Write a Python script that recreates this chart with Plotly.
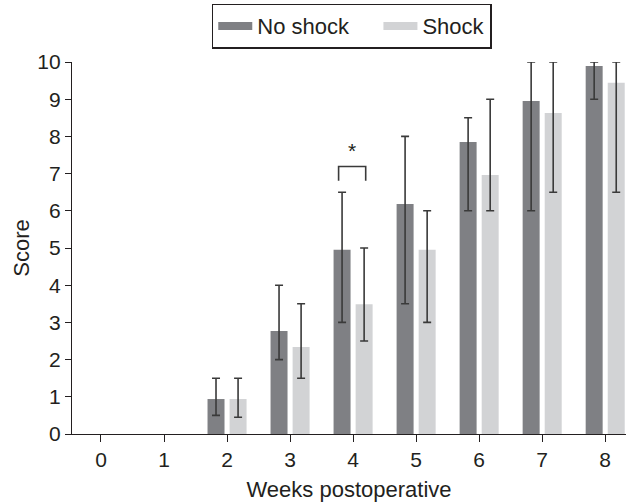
import plotly.graph_objects as go

weeks = [0, 1, 2, 3, 4, 5, 6, 7, 8]
tick_labels = ["0", "1", "2", "3", "4", "5", "6", "7", "8"]

no_shock = [None, None, 0.94, 2.77, 4.95, 6.18, 7.85, 8.95, 9.89]
no_shock_hi = [None, None, 1.5, 4.0, 6.5, 8.0, 8.5, 10.0, 10.0]
no_shock_lo = [None, None, 0.5, 2.0, 3.0, 3.5, 6.0, 6.0, 9.0]

shock = [None, None, 0.94, 2.34, 3.49, 4.95, 6.96, 8.63, 9.44]
shock_hi = [None, None, 1.5, 3.5, 5.0, 6.0, 9.0, 10.0, 10.0]
shock_lo = [None, None, 0.45, 1.5, 2.5, 3.0, 6.0, 6.5, 6.5]

DARK = "#7f8084"
LIGHT = "#d2d3d5"
INK = "#231f20"
FONT = "Liberation Sans, Arial, sans-serif"


def err(vals, hi, lo):
    plus = [h - v if h is not None else float("nan") for v, h in zip(vals, hi)]
    minus = [v - l if l is not None else float("nan") for v, l in zip(vals, lo)]
    return dict(type="data", symmetric=False, array=plus, arrayminus=minus,
                color="#3a3a3a", thickness=1.6, width=4)


fig = go.Figure()
fig.add_trace(go.Bar(x=weeks, y=no_shock, name="No shock", marker_color=DARK,
                     marker_line_width=0, error_y=err(no_shock, no_shock_hi, no_shock_lo),
                     showlegend=False, cliponaxis=False))
fig.add_trace(go.Bar(x=weeks, y=shock, name="Shock", marker_color=LIGHT,
                     marker_line_width=0, error_y=err(shock, shock_hi, shock_lo),
                     showlegend=False, cliponaxis=False))
# legend swatches (wide bars)
fig.add_trace(go.Scatter(x=[None], y=[None], mode="lines", name="No shock    ",
                         line=dict(color=DARK, width=8)))
fig.add_trace(go.Scatter(x=[None], y=[None], mode="lines", name="Shock",
                         line=dict(color=LIGHT, width=8)))

# significance bracket at week 4
br_x0, br_x1, br_top, br_bot = 3.77, 4.2, 7.19, 6.81
fig.add_shape(type="path",
              path=f"M {br_x0} {br_bot} L {br_x0} {br_top} L {br_x1} {br_top} L {br_x1} {br_bot}",
              line=dict(color="#3a3a3a", width=1.6), xref="x", yref="y")
fig.add_annotation(x=3.985, y=7.63, text="*", showarrow=False, yanchor="middle",
                   font=dict(size=21, color=INK, family=FONT))

fig.update_layout(
    width=626, height=503,
    margin=dict(l=72, r=0, t=62, b=69),
    paper_bgcolor="white", plot_bgcolor="white",
    barmode="group", bargap=0.30, bargroupgap=0.23,
    font=dict(family=FONT, size=21, color=INK),
    legend=dict(orientation="h", x=0.505, xanchor="center", y=1.157, yanchor="top",
                bordercolor=INK, borderwidth=1.5, font=dict(size=22, family=FONT),
                itemwidth=34, tracegroupgap=0, bgcolor="white"),
    xaxis=dict(range=[-0.46, 8.33], tickmode="array", tickvals=weeks, ticktext=tick_labels,
               showline=True, linecolor=INK, linewidth=1.3, ticks="outside", ticklen=7,
               tickcolor=INK, tickwidth=1.3, showgrid=False, zeroline=False,
               tickfont=dict(size=21, family=FONT),
               title=dict(text="Weeks postoperative", standoff=11,
                          font=dict(size=22, family=FONT))),
    yaxis=dict(range=[0, 10], dtick=1, showline=True, linecolor=INK, linewidth=1.3,
               ticks="outside", ticklen=6, tickcolor=INK, tickwidth=1.3,
               showgrid=False, zeroline=False, tickfont=dict(size=21, family=FONT),
               title=dict(text="Score", standoff=1, font=dict(size=22, family=FONT))),
)

fig.write_html("out.html")
